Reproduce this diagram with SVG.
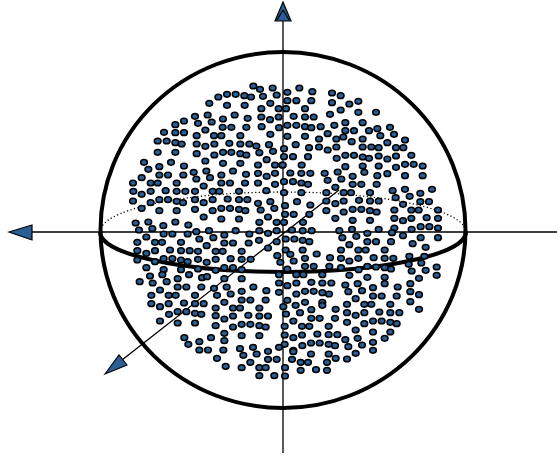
<svg xmlns="http://www.w3.org/2000/svg" xmlns:xlink="http://www.w3.org/1999/xlink" width="557" height="456" viewBox="0 0 557 456">
<style>
.ax{fill:none;stroke:#000;stroke-width:1.3}
.sp{fill:none;stroke:#000;stroke-width:4}
.dot{fill:none;stroke:#000;stroke-width:1.3;stroke-dasharray:1.2 2.4}
.hd{fill:#2a5f96;stroke:#000;stroke-width:1.2;stroke-linejoin:miter}
</style>
<defs><ellipse id="d" rx="10" ry="8.500" fill="#2a5f96" stroke="#000" stroke-width="4.6"/></defs>
<rect width="557" height="456" fill="#fff"/>
<g id="sphere">
<ellipse class="sp" cx="283" cy="230" rx="182.500" ry="178"/>
<path class="dot" d="M100 232A183 40 0 0 1 466 232"/>
<path class="sp" d="M100 232A183 40 0 0 0 466 232"/>
</g>
<g id="connectors">
<path class="ax" d="M283 14V453M32 232H557M339 190L122 360"/>
<path class="hd" d="M283 2L291 21H275Z"/>
<path d="M283 10L277 20M283 10L289 20" fill="none" stroke="#000" stroke-width="1.200"/>
<path class="hd" d="M9 232L32 225V240Z"/>
<path class="hd" d="M105 374L119 355L127 365Z"/>
</g>
<g id="points-a" transform="translate(120 75) scale(.33333)">
<use xlink:href="#d" x="400" y="33"/><use xlink:href="#d" x="420" y="43"/><use xlink:href="#d" x="458" y="39"/><use xlink:href="#d" x="295" y="66"/><use xlink:href="#d" x="321" y="58"/><use xlink:href="#d" x="347" y="58"/><use xlink:href="#d" x="373" y="62"/><use xlink:href="#d" x="393" y="66"/><use xlink:href="#d" x="429" y="64"/><use xlink:href="#d" x="470" y="60"/><use xlink:href="#d" x="268" y="85"/><use xlink:href="#d" x="321" y="91"/><use xlink:href="#d" x="374" y="91"/><use xlink:href="#d" x="451" y="85"/><use xlink:href="#d" x="424" y="101"/><use xlink:href="#d" x="476" y="101"/><use xlink:href="#d" x="225" y="124"/><use xlink:href="#d" x="263" y="120"/><use xlink:href="#d" x="344" y="120"/><use xlink:href="#d" x="424" y="126"/><use xlink:href="#d" x="476" y="126"/><use xlink:href="#d" x="192" y="138"/><use xlink:href="#d" x="166" y="149"/><use xlink:href="#d" x="234" y="145"/><use xlink:href="#d" x="275" y="141"/><use xlink:href="#d" x="309" y="132"/><use xlink:href="#d" x="383" y="130"/><use xlink:href="#d" x="450" y="134"/><use xlink:href="#d" x="308" y="157"/><use xlink:href="#d" x="334" y="157"/><use xlink:href="#d" x="379" y="157"/><use xlink:href="#d" x="425" y="155"/><use xlink:href="#d" x="477" y="158"/><use xlink:href="#d" x="256" y="165"/><use xlink:href="#d" x="132" y="172"/><use xlink:href="#d" x="166" y="173"/><use xlink:href="#d" x="192" y="173"/><use xlink:href="#d" x="230" y="182"/><use xlink:href="#d" x="282" y="182"/><use xlink:href="#d" x="304" y="182"/><use xlink:href="#d" x="361" y="182"/><use xlink:href="#d" x="451" y="178"/><use xlink:href="#d" x="113" y="198"/><use xlink:href="#d" x="140" y="198"/><use xlink:href="#d" x="166" y="203"/><use xlink:href="#d" x="185" y="207"/><use xlink:href="#d" x="230" y="207"/><use xlink:href="#d" x="256" y="214"/><use xlink:href="#d" x="283" y="207"/><use xlink:href="#d" x="328" y="205"/><use xlink:href="#d" x="361" y="207"/><use xlink:href="#d" x="388" y="207"/><use xlink:href="#d" x="409" y="213"/><use xlink:href="#d" x="447" y="209"/><use xlink:href="#d" x="113" y="232"/><use xlink:href="#d" x="166" y="232"/><use xlink:href="#d" x="230" y="236"/><use xlink:href="#d" x="283" y="240"/><use xlink:href="#d" x="309" y="232"/><use xlink:href="#d" x="334" y="232"/><use xlink:href="#d" x="361" y="236"/><use xlink:href="#d" x="379" y="240"/><use xlink:href="#d" x="418" y="233"/><use xlink:href="#d" x="459" y="229"/><use xlink:href="#d" x="256" y="258"/><use xlink:href="#d" x="309" y="265"/><use xlink:href="#d" x="361" y="265"/><use xlink:href="#d" x="440" y="254"/><use xlink:href="#d" x="414" y="270"/><use xlink:href="#d" x="465" y="270"/><use xlink:href="#d" x="487" y="270"/><use xlink:href="#d" x="72" y="262"/><use xlink:href="#d" x="118" y="275"/><use xlink:href="#d" x="153" y="262"/><use xlink:href="#d" x="192" y="273"/><use xlink:href="#d" x="85" y="283"/><use xlink:href="#d" x="118" y="300"/><use xlink:href="#d" x="144" y="300"/><use xlink:href="#d" x="190" y="300"/><use xlink:href="#d" x="221" y="292"/><use xlink:href="#d" x="259" y="288"/><use xlink:href="#d" x="304" y="300"/><use xlink:href="#d" x="339" y="288"/><use xlink:href="#d" x="378" y="298"/><use xlink:href="#d" x="414" y="295"/><use xlink:href="#d" x="440" y="304"/><use xlink:href="#d" x="465" y="295"/><use xlink:href="#d" x="65" y="308"/><use xlink:href="#d" x="229" y="312"/><use xlink:href="#d" x="270" y="308"/><use xlink:href="#d" x="39" y="324"/><use xlink:href="#d" x="92" y="324"/><use xlink:href="#d" x="113" y="324"/><use xlink:href="#d" x="170" y="324"/><use xlink:href="#d" x="304" y="324"/><use xlink:href="#d" x="330" y="324"/><use xlink:href="#d" x="375" y="324"/><use xlink:href="#d" x="414" y="324"/><use xlink:href="#d" x="465" y="328"/><use xlink:href="#d" x="251" y="333"/><use xlink:href="#d" x="40" y="349"/><use xlink:href="#d" x="65" y="358"/><use xlink:href="#d" x="92" y="349"/><use xlink:href="#d" x="137" y="347"/><use xlink:href="#d" x="170" y="349"/><use xlink:href="#d" x="196" y="349"/><use xlink:href="#d" x="225" y="349"/><use xlink:href="#d" x="278" y="349"/><use xlink:href="#d" x="298" y="349"/><use xlink:href="#d" x="357" y="349"/><use xlink:href="#d" x="439" y="347"/><use xlink:href="#d" x="39" y="378"/><use xlink:href="#d" x="92" y="383"/><use xlink:href="#d" x="118" y="374"/><use xlink:href="#d" x="144" y="374"/><use xlink:href="#d" x="170" y="379"/><use xlink:href="#d" x="189" y="383"/><use xlink:href="#d" x="225" y="374"/><use xlink:href="#d" x="251" y="383"/><use xlink:href="#d" x="278" y="374"/><use xlink:href="#d" x="323" y="372"/><use xlink:href="#d" x="357" y="374"/><use xlink:href="#d" x="382" y="374"/><use xlink:href="#d" x="414" y="385"/><use xlink:href="#d" x="451" y="380"/><use xlink:href="#d" x="65" y="400"/><use xlink:href="#d" x="118" y="407"/><use xlink:href="#d" x="170" y="407"/><use xlink:href="#d" x="225" y="403"/><use xlink:href="#d" x="278" y="407"/><use xlink:href="#d" x="304" y="400"/><use xlink:href="#d" x="330" y="400"/><use xlink:href="#d" x="357" y="403"/><use xlink:href="#d" x="376" y="407"/><use xlink:href="#d" x="422" y="405"/><use xlink:href="#d" x="463" y="400"/><use xlink:href="#d" x="251" y="426"/><use xlink:href="#d" x="304" y="432"/><use xlink:href="#d" x="357" y="432"/><use xlink:href="#d" x="444" y="426"/><use xlink:href="#d" x="47" y="444"/><use xlink:href="#d" x="85" y="441"/><use xlink:href="#d" x="166" y="441"/><use xlink:href="#d" x="205" y="450"/><use xlink:href="#d" x="130" y="452"/><use xlink:href="#d" x="418" y="442"/><use xlink:href="#d" x="470" y="442"/>
</g>
<g id="points-b" transform="translate(280 75) scale(.33333)">
<use xlink:href="#d" x="58" y="39"/><use xlink:href="#d" x="22" y="52"/><use xlink:href="#d" x="97" y="50"/><use xlink:href="#d" x="156" y="54"/><use xlink:href="#d" x="182" y="62"/><use xlink:href="#d" x="22" y="77"/><use xlink:href="#d" x="49" y="77"/><use xlink:href="#d" x="94" y="77"/><use xlink:href="#d" x="156" y="83"/><use xlink:href="#d" x="208" y="87"/><use xlink:href="#d" x="235" y="79"/><use xlink:href="#d" x="18" y="101"/><use xlink:href="#d" x="75" y="101"/><use xlink:href="#d" x="182" y="105"/><use xlink:href="#d" x="150" y="118"/><use xlink:href="#d" x="235" y="112"/><use xlink:href="#d" x="288" y="112"/><use xlink:href="#d" x="41" y="124"/><use xlink:href="#d" x="75" y="126"/><use xlink:href="#d" x="101" y="126"/><use xlink:href="#d" x="196" y="143"/><use xlink:href="#d" x="248" y="143"/><use xlink:href="#d" x="22" y="151"/><use xlink:href="#d" x="49" y="151"/><use xlink:href="#d" x="75" y="155"/><use xlink:href="#d" x="94" y="158"/><use xlink:href="#d" x="122" y="155"/><use xlink:href="#d" x="163" y="151"/><use xlink:href="#d" x="196" y="167"/><use xlink:href="#d" x="222" y="167"/><use xlink:href="#d" x="267" y="167"/><use xlink:href="#d" x="292" y="161"/><use xlink:href="#d" x="330" y="157"/><use xlink:href="#d" x="143" y="176"/><use xlink:href="#d" x="342" y="178"/><use xlink:href="#d" x="301" y="182"/><use xlink:href="#d" x="22" y="184"/><use xlink:href="#d" x="75" y="184"/><use xlink:href="#d" x="117" y="192"/><use xlink:href="#d" x="169" y="192"/><use xlink:href="#d" x="190" y="186"/><use xlink:href="#d" x="248" y="192"/><use xlink:href="#d" x="375" y="195"/><use xlink:href="#d" x="215" y="200"/><use xlink:href="#d" x="322" y="203"/><use xlink:href="#d" x="47" y="209"/><use xlink:href="#d" x="87" y="218"/><use xlink:href="#d" x="117" y="216"/><use xlink:href="#d" x="143" y="225"/><use xlink:href="#d" x="169" y="216"/><use xlink:href="#d" x="248" y="216"/><use xlink:href="#d" x="274" y="216"/><use xlink:href="#d" x="296" y="218"/><use xlink:href="#d" x="348" y="218"/><use xlink:href="#d" x="370" y="218"/><use xlink:href="#d" x="12" y="221"/><use xlink:href="#d" x="12" y="245"/><use xlink:href="#d" x="39" y="245"/><use xlink:href="#d" x="84" y="245"/><use xlink:href="#d" x="170" y="250"/><use xlink:href="#d" x="196" y="241"/><use xlink:href="#d" x="222" y="241"/><use xlink:href="#d" x="248" y="246"/><use xlink:href="#d" x="267" y="250"/><use xlink:href="#d" x="296" y="243"/><use xlink:href="#d" x="322" y="252"/><use xlink:href="#d" x="348" y="243"/><use xlink:href="#d" x="394" y="241"/><use xlink:href="#d" x="8" y="270"/><use xlink:href="#d" x="65" y="270"/><use xlink:href="#d" x="196" y="275"/><use xlink:href="#d" x="248" y="273"/><use xlink:href="#d" x="296" y="273"/><use xlink:href="#d" x="348" y="277"/><use xlink:href="#d" x="375" y="268"/><use xlink:href="#d" x="401" y="268"/><use xlink:href="#d" x="428" y="273"/><use xlink:href="#d" x="31" y="294"/><use xlink:href="#d" x="64" y="295"/><use xlink:href="#d" x="91" y="295"/><use xlink:href="#d" x="134" y="295"/><use xlink:href="#d" x="173" y="291"/><use xlink:href="#d" x="218" y="304"/><use xlink:href="#d" x="253" y="292"/><use xlink:href="#d" x="292" y="302"/><use xlink:href="#d" x="322" y="296"/><use xlink:href="#d" x="375" y="302"/><use xlink:href="#d" x="428" y="302"/><use xlink:href="#d" x="143" y="316"/><use xlink:href="#d" x="184" y="312"/><use xlink:href="#d" x="12" y="320"/><use xlink:href="#d" x="39" y="320"/><use xlink:href="#d" x="64" y="324"/><use xlink:href="#d" x="84" y="328"/><use xlink:href="#d" x="166" y="337"/><use xlink:href="#d" x="218" y="328"/><use xlink:href="#d" x="244" y="328"/><use xlink:href="#d" x="290" y="328"/><use xlink:href="#d" x="12" y="353"/><use xlink:href="#d" x="64" y="353"/><use xlink:href="#d" x="139" y="353"/><use xlink:href="#d" x="191" y="353"/><use xlink:href="#d" x="213" y="353"/><use xlink:href="#d" x="270" y="353"/><use xlink:href="#d" x="338" y="347"/><use xlink:href="#d" x="375" y="343"/><use xlink:href="#d" x="456" y="343"/><use xlink:href="#d" x="51" y="380"/><use xlink:href="#d" x="139" y="378"/><use xlink:href="#d" x="191" y="378"/><use xlink:href="#d" x="166" y="386"/><use xlink:href="#d" x="237" y="376"/><use xlink:href="#d" x="270" y="378"/><use xlink:href="#d" x="296" y="378"/><use xlink:href="#d" x="347" y="368"/><use xlink:href="#d" x="389" y="364"/><use xlink:href="#d" x="421" y="355"/><use xlink:href="#d" x="421" y="380"/><use xlink:href="#d" x="447" y="380"/><use xlink:href="#d" x="369" y="388"/><use xlink:href="#d" x="15" y="392"/><use xlink:href="#d" x="91" y="390"/><use xlink:href="#d" x="15" y="418"/><use xlink:href="#d" x="41" y="418"/><use xlink:href="#d" x="88" y="418"/><use xlink:href="#d" x="139" y="407"/><use xlink:href="#d" x="191" y="411"/><use xlink:href="#d" x="218" y="403"/><use xlink:href="#d" x="244" y="403"/><use xlink:href="#d" x="270" y="407"/><use xlink:href="#d" x="290" y="411"/><use xlink:href="#d" x="343" y="405"/><use xlink:href="#d" x="394" y="405"/><use xlink:href="#d" x="416" y="405"/><use xlink:href="#d" x="474" y="405"/><use xlink:href="#d" x="12" y="442"/><use xlink:href="#d" x="69" y="442"/><use xlink:href="#d" x="166" y="430"/><use xlink:href="#d" x="218" y="436"/><use xlink:href="#d" x="270" y="436"/><use xlink:href="#d" x="343" y="430"/><use xlink:href="#d" x="369" y="437"/><use xlink:href="#d" x="394" y="430"/><use xlink:href="#d" x="440" y="428"/><use xlink:href="#d" x="474" y="430"/>
</g>
<g id="points-c" transform="translate(120 225) scale(.33333)">
<use xlink:href="#d" x="57" y="15"/><use xlink:href="#d" x="97" y="11"/><use xlink:href="#d" x="131" y="27"/><use xlink:href="#d" x="157" y="27"/><use xlink:href="#d" x="203" y="27"/><use xlink:href="#d" x="229" y="20"/><use xlink:href="#d" x="267" y="17"/><use xlink:href="#d" x="313" y="30"/><use xlink:href="#d" x="347" y="17"/><use xlink:href="#d" x="388" y="27"/><use xlink:href="#d" x="418" y="17"/><use xlink:href="#d" x="444" y="25"/><use xlink:href="#d" x="470" y="17"/><use xlink:href="#d" x="79" y="36"/><use xlink:href="#d" x="238" y="42"/><use xlink:href="#d" x="280" y="38"/><use xlink:href="#d" x="52" y="52"/><use xlink:href="#d" x="105" y="52"/><use xlink:href="#d" x="126" y="52"/><use xlink:href="#d" x="183" y="52"/><use xlink:href="#d" x="313" y="54"/><use xlink:href="#d" x="339" y="54"/><use xlink:href="#d" x="386" y="54"/><use xlink:href="#d" x="417" y="46"/><use xlink:href="#d" x="470" y="50"/><use xlink:href="#d" x="260" y="62"/><use xlink:href="#d" x="52" y="77"/><use xlink:href="#d" x="79" y="85"/><use xlink:href="#d" x="105" y="77"/><use xlink:href="#d" x="150" y="75"/><use xlink:href="#d" x="183" y="77"/><use xlink:href="#d" x="209" y="77"/><use xlink:href="#d" x="234" y="79"/><use xlink:href="#d" x="287" y="79"/><use xlink:href="#d" x="308" y="79"/><use xlink:href="#d" x="365" y="79"/><use xlink:href="#d" x="444" y="69"/><use xlink:href="#d" x="52" y="105"/><use xlink:href="#d" x="105" y="110"/><use xlink:href="#d" x="131" y="101"/><use xlink:href="#d" x="157" y="101"/><use xlink:href="#d" x="183" y="105"/><use xlink:href="#d" x="203" y="110"/><use xlink:href="#d" x="234" y="103"/><use xlink:href="#d" x="260" y="112"/><use xlink:href="#d" x="287" y="103"/><use xlink:href="#d" x="332" y="101"/><use xlink:href="#d" x="365" y="103"/><use xlink:href="#d" x="392" y="103"/><use xlink:href="#d" x="472" y="92"/><use xlink:href="#d" x="79" y="128"/><use xlink:href="#d" x="131" y="134"/><use xlink:href="#d" x="183" y="134"/><use xlink:href="#d" x="234" y="132"/><use xlink:href="#d" x="287" y="136"/><use xlink:href="#d" x="313" y="128"/><use xlink:href="#d" x="339" y="128"/><use xlink:href="#d" x="365" y="134"/><use xlink:href="#d" x="481" y="112"/><use xlink:href="#d" x="127" y="149"/><use xlink:href="#d" x="90" y="153"/><use xlink:href="#d" x="207" y="149"/><use xlink:href="#d" x="246" y="158"/><use xlink:href="#d" x="261" y="155"/><use xlink:href="#d" x="313" y="161"/><use xlink:href="#d" x="365" y="161"/><use xlink:href="#d" x="477" y="149"/><use xlink:href="#d" x="59" y="170"/><use xlink:href="#d" x="98" y="174"/><use xlink:href="#d" x="140" y="170"/><use xlink:href="#d" x="173" y="161"/><use xlink:href="#d" x="120" y="195"/><use xlink:href="#d" x="173" y="186"/><use xlink:href="#d" x="199" y="186"/><use xlink:href="#d" x="244" y="186"/><use xlink:href="#d" x="282" y="190"/><use xlink:href="#d" x="320" y="186"/><use xlink:href="#d" x="365" y="199"/><use xlink:href="#d" x="400" y="186"/><use xlink:href="#d" x="439" y="197"/><use xlink:href="#d" x="477" y="174"/><use xlink:href="#d" x="477" y="202"/><use xlink:href="#d" x="94" y="211"/><use xlink:href="#d" x="146" y="211"/><use xlink:href="#d" x="167" y="211"/><use xlink:href="#d" x="225" y="211"/><use xlink:href="#d" x="291" y="211"/><use xlink:href="#d" x="332" y="207"/><use xlink:href="#d" x="365" y="225"/><use xlink:href="#d" x="391" y="225"/><use xlink:href="#d" x="437" y="225"/><use xlink:href="#d" x="94" y="236"/><use xlink:href="#d" x="146" y="236"/><use xlink:href="#d" x="120" y="245"/><use xlink:href="#d" x="192" y="234"/><use xlink:href="#d" x="225" y="236"/><use xlink:href="#d" x="251" y="236"/><use xlink:href="#d" x="313" y="232"/><use xlink:href="#d" x="287" y="249"/><use xlink:href="#d" x="339" y="249"/><use xlink:href="#d" x="360" y="249"/><use xlink:href="#d" x="418" y="249"/><use xlink:href="#d" x="147" y="268"/><use xlink:href="#d" x="173" y="260"/><use xlink:href="#d" x="199" y="260"/><use xlink:href="#d" x="225" y="265"/><use xlink:href="#d" x="244" y="268"/><use xlink:href="#d" x="287" y="272"/><use xlink:href="#d" x="313" y="282"/><use xlink:href="#d" x="339" y="273"/><use xlink:href="#d" x="385" y="271"/><use xlink:href="#d" x="418" y="273"/><use xlink:href="#d" x="444" y="273"/><use xlink:href="#d" x="120" y="288"/><use xlink:href="#d" x="173" y="294"/><use xlink:href="#d" x="225" y="294"/><use xlink:href="#d" x="287" y="302"/><use xlink:href="#d" x="339" y="306"/><use xlink:href="#d" x="365" y="298"/><use xlink:href="#d" x="391" y="298"/><use xlink:href="#d" x="418" y="302"/><use xlink:href="#d" x="437" y="306"/><use xlink:href="#d" x="313" y="325"/><use xlink:href="#d" x="365" y="332"/><use xlink:href="#d" x="418" y="332"/><use xlink:href="#d" x="193" y="338"/><use xlink:href="#d" x="273" y="338"/><use xlink:href="#d" x="238" y="350"/><use xlink:href="#d" x="313" y="347"/><use xlink:href="#d" x="205" y="358"/><use xlink:href="#d" x="238" y="375"/><use xlink:href="#d" x="264" y="375"/><use xlink:href="#d" x="310" y="375"/><use xlink:href="#d" x="360" y="371"/><use xlink:href="#d" x="399" y="367"/><use xlink:href="#d" x="444" y="379"/><use xlink:href="#d" x="477" y="367"/><use xlink:href="#d" x="370" y="391"/><use xlink:href="#d" x="410" y="387"/><use xlink:href="#d" x="291" y="400"/><use xlink:href="#d" x="444" y="403"/><use xlink:href="#d" x="470" y="403"/><use xlink:href="#d" x="391" y="412"/><use xlink:href="#d" x="317" y="424"/><use xlink:href="#d" x="365" y="428"/><use xlink:href="#d" x="418" y="428"/><use xlink:href="#d" x="437" y="428"/><use xlink:href="#d" x="418" y="452"/><use xlink:href="#d" x="463" y="452"/>
</g>
<g id="points-d" transform="translate(280 225) scale(.33333)">
<use xlink:href="#d" x="36" y="15"/><use xlink:href="#d" x="68" y="17"/><use xlink:href="#d" x="95" y="17"/><use xlink:href="#d" x="178" y="17"/><use xlink:href="#d" x="216" y="13"/><use xlink:href="#d" x="262" y="25"/><use xlink:href="#d" x="296" y="13"/><use xlink:href="#d" x="343" y="9"/><use xlink:href="#d" x="395" y="13"/><use xlink:href="#d" x="422" y="5"/><use xlink:href="#d" x="448" y="5"/><use xlink:href="#d" x="474" y="9"/><use xlink:href="#d" x="336" y="23"/><use xlink:href="#d" x="17" y="42"/><use xlink:href="#d" x="43" y="42"/><use xlink:href="#d" x="68" y="46"/><use xlink:href="#d" x="88" y="50"/><use xlink:href="#d" x="187" y="38"/><use xlink:href="#d" x="229" y="34"/><use xlink:href="#d" x="369" y="32"/><use xlink:href="#d" x="422" y="38"/><use xlink:href="#d" x="474" y="38"/><use xlink:href="#d" x="262" y="50"/><use xlink:href="#d" x="288" y="50"/><use xlink:href="#d" x="333" y="50"/><use xlink:href="#d" x="208" y="59"/><use xlink:href="#d" x="398" y="56"/><use xlink:href="#d" x="437" y="67"/><use xlink:href="#d" x="68" y="75"/><use xlink:href="#d" x="17" y="75"/><use xlink:href="#d" x="183" y="75"/><use xlink:href="#d" x="235" y="75"/><use xlink:href="#d" x="257" y="75"/><use xlink:href="#d" x="314" y="75"/><use xlink:href="#d" x="31" y="88"/><use xlink:href="#d" x="110" y="87"/><use xlink:href="#d" x="150" y="98"/><use xlink:href="#d" x="75" y="100"/><use xlink:href="#d" x="183" y="100"/><use xlink:href="#d" x="235" y="100"/><use xlink:href="#d" x="281" y="98"/><use xlink:href="#d" x="314" y="100"/><use xlink:href="#d" x="340" y="100"/><use xlink:href="#d" x="388" y="94"/><use xlink:href="#d" x="433" y="94"/><use xlink:href="#d" x="41" y="108"/><use xlink:href="#d" x="208" y="108"/><use xlink:href="#d" x="386" y="118"/><use xlink:href="#d" x="424" y="114"/><use xlink:href="#d" x="22" y="132"/><use xlink:href="#d" x="75" y="124"/><use xlink:href="#d" x="101" y="124"/><use xlink:href="#d" x="148" y="124"/><use xlink:href="#d" x="183" y="128"/><use xlink:href="#d" x="236" y="134"/><use xlink:href="#d" x="262" y="124"/><use xlink:href="#d" x="288" y="126"/><use xlink:href="#d" x="314" y="128"/><use xlink:href="#d" x="333" y="132"/><use xlink:href="#d" x="395" y="138"/><use xlink:href="#d" x="437" y="136"/><use xlink:href="#d" x="470" y="126"/><use xlink:href="#d" x="49" y="149"/><use xlink:href="#d" x="70" y="149"/><use xlink:href="#d" x="127" y="149"/><use xlink:href="#d" x="208" y="151"/><use xlink:href="#d" x="262" y="157"/><use xlink:href="#d" x="314" y="157"/><use xlink:href="#d" x="470" y="151"/><use xlink:href="#d" x="417" y="160"/><use xlink:href="#d" x="22" y="182"/><use xlink:href="#d" x="49" y="174"/><use xlink:href="#d" x="94" y="172"/><use xlink:href="#d" x="127" y="174"/><use xlink:href="#d" x="154" y="174"/><use xlink:href="#d" x="196" y="180"/><use xlink:href="#d" x="233" y="176"/><use xlink:href="#d" x="314" y="176"/><use xlink:href="#d" x="279" y="188"/><use xlink:href="#d" x="353" y="186"/><use xlink:href="#d" x="391" y="176"/><use xlink:href="#d" x="75" y="199"/><use xlink:href="#d" x="101" y="199"/><use xlink:href="#d" x="49" y="207"/><use xlink:href="#d" x="127" y="203"/><use xlink:href="#d" x="147" y="207"/><use xlink:href="#d" x="205" y="200"/><use xlink:href="#d" x="246" y="197"/><use xlink:href="#d" x="279" y="213"/><use xlink:href="#d" x="305" y="213"/><use xlink:href="#d" x="350" y="213"/><use xlink:href="#d" x="391" y="200"/><use xlink:href="#d" x="417" y="209"/><use xlink:href="#d" x="22" y="226"/><use xlink:href="#d" x="75" y="232"/><use xlink:href="#d" x="47" y="241"/><use xlink:href="#d" x="127" y="232"/><use xlink:href="#d" x="127" y="241"/><use xlink:href="#d" x="227" y="221"/><use xlink:href="#d" x="201" y="238"/><use xlink:href="#d" x="253" y="238"/><use xlink:href="#d" x="274" y="238"/><use xlink:href="#d" x="331" y="238"/><use xlink:href="#d" x="391" y="230"/><use xlink:href="#d" x="10" y="245"/><use xlink:href="#d" x="167" y="253"/><use xlink:href="#d" x="94" y="254"/><use xlink:href="#d" x="417" y="253"/><use xlink:href="#d" x="18" y="267"/><use xlink:href="#d" x="60" y="263"/><use xlink:href="#d" x="201" y="263"/><use xlink:href="#d" x="227" y="271"/><use xlink:href="#d" x="253" y="263"/><use xlink:href="#d" x="298" y="261"/><use xlink:href="#d" x="331" y="263"/><use xlink:href="#d" x="358" y="263"/><use xlink:href="#d" x="94" y="280"/><use xlink:href="#d" x="119" y="280"/><use xlink:href="#d" x="165" y="280"/><use xlink:href="#d" x="40" y="288"/><use xlink:href="#d" x="201" y="292"/><use xlink:href="#d" x="253" y="296"/><use xlink:href="#d" x="279" y="288"/><use xlink:href="#d" x="305" y="288"/><use xlink:href="#d" x="331" y="292"/><use xlink:href="#d" x="350" y="296"/><use xlink:href="#d" x="14" y="304"/><use xlink:href="#d" x="66" y="304"/><use xlink:href="#d" x="88" y="304"/><use xlink:href="#d" x="146" y="304"/><use xlink:href="#d" x="227" y="315"/><use xlink:href="#d" x="279" y="321"/><use xlink:href="#d" x="331" y="321"/><use xlink:href="#d" x="14" y="330"/><use xlink:href="#d" x="66" y="330"/><use xlink:href="#d" x="40" y="338"/><use xlink:href="#d" x="112" y="327"/><use xlink:href="#d" x="146" y="329"/><use xlink:href="#d" x="172" y="329"/><use xlink:href="#d" x="196" y="344"/><use xlink:href="#d" x="233" y="340"/><use xlink:href="#d" x="314" y="340"/><use xlink:href="#d" x="14" y="358"/><use xlink:href="#d" x="67" y="362"/><use xlink:href="#d" x="93" y="354"/><use xlink:href="#d" x="119" y="354"/><use xlink:href="#d" x="146" y="358"/><use xlink:href="#d" x="165" y="362"/><use xlink:href="#d" x="205" y="365"/><use xlink:href="#d" x="246" y="360"/><use xlink:href="#d" x="279" y="352"/><use xlink:href="#d" x="40" y="376"/><use xlink:href="#d" x="40" y="380"/><use xlink:href="#d" x="279" y="376"/><use xlink:href="#d" x="93" y="387"/><use xlink:href="#d" x="146" y="387"/><use xlink:href="#d" x="227" y="385"/><use xlink:href="#d" x="36" y="403"/><use xlink:href="#d" x="62" y="412"/><use xlink:href="#d" x="84" y="412"/><use xlink:href="#d" x="141" y="412"/><use xlink:href="#d" x="167" y="400"/><use xlink:href="#d" x="201" y="402"/><use xlink:href="#d" x="15" y="428"/><use xlink:href="#d" x="62" y="436"/><use xlink:href="#d" x="108" y="434"/><use xlink:href="#d" x="141" y="436"/><use xlink:href="#d" x="15" y="453"/>
</g>
</svg>
